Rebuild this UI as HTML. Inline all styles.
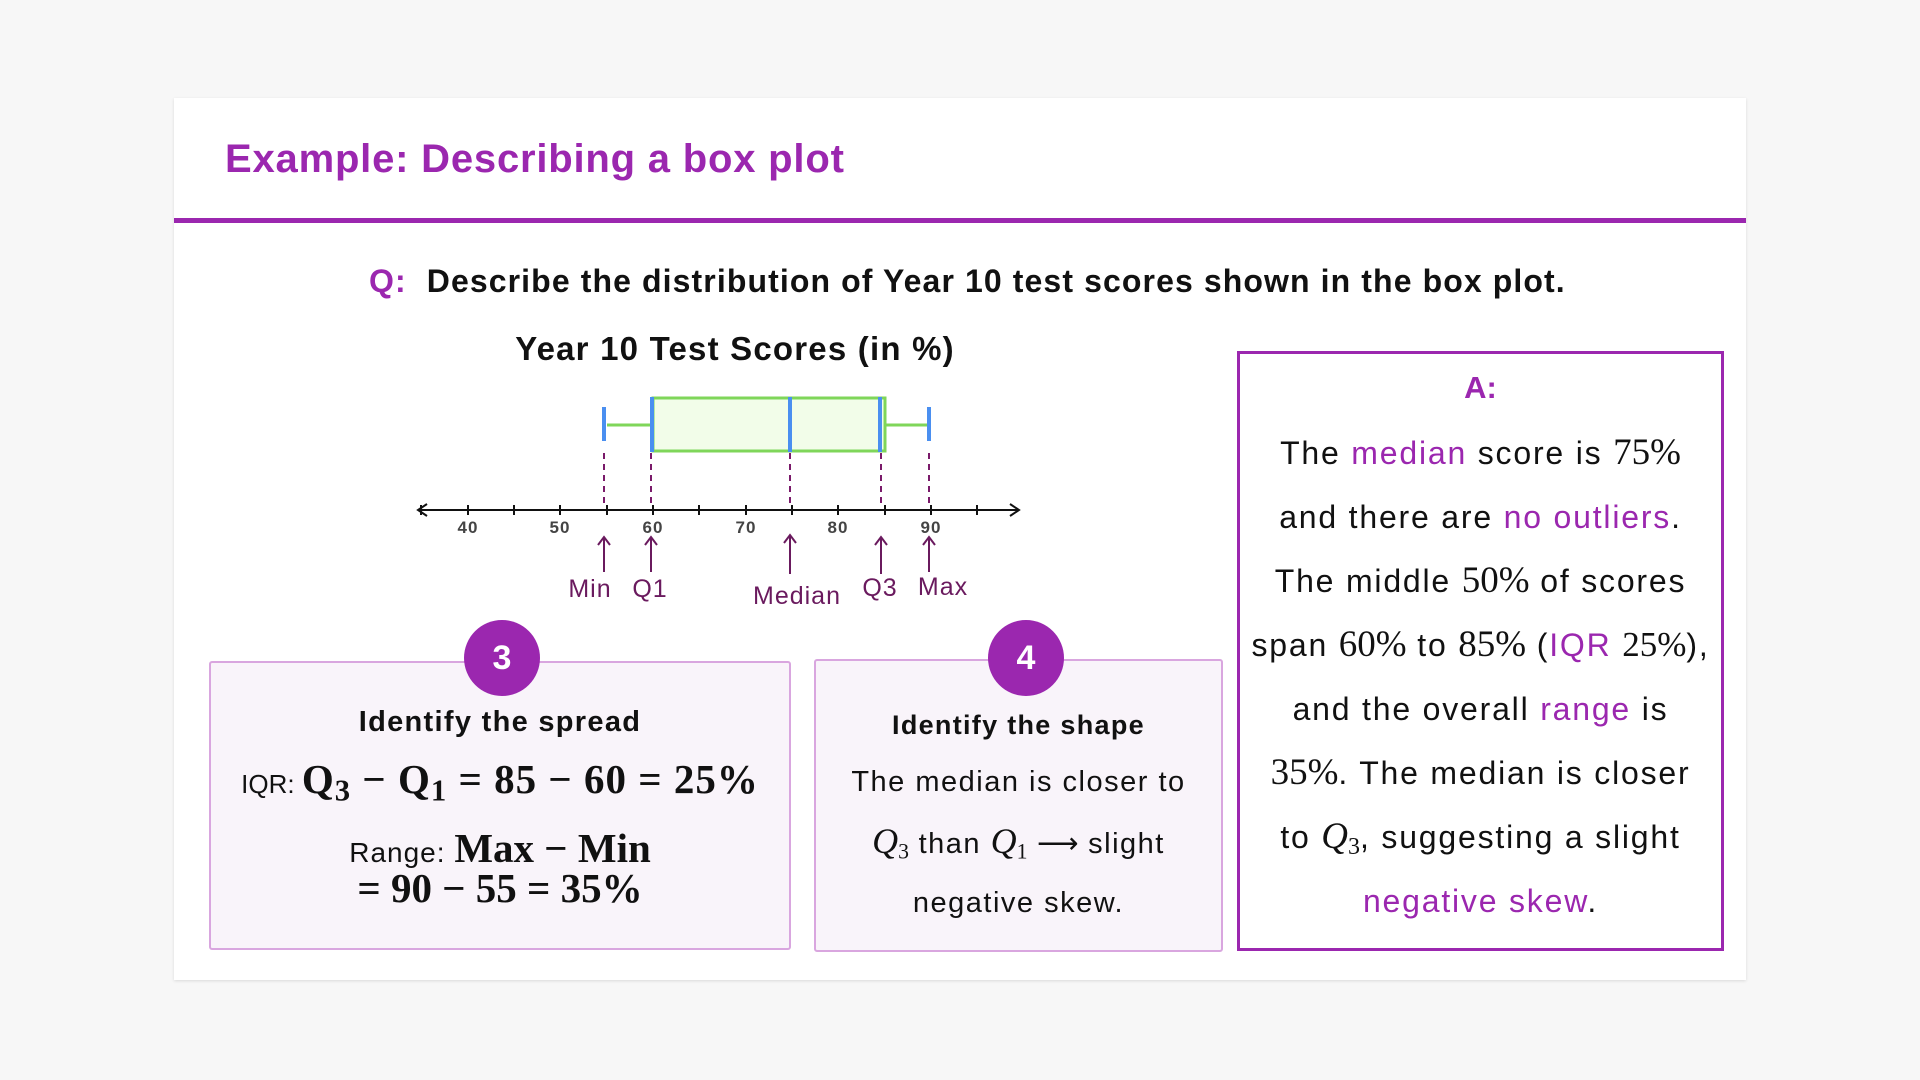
<!DOCTYPE html>
<html><head><meta charset="utf-8"><style>
body{margin:0;width:1920px;height:1080px;background:#f7f7f7;position:relative;overflow:hidden;font-family:"Liberation Sans",sans-serif;}
.card{position:absolute;left:174px;top:98px;width:1572px;height:882px;background:#fff;box-shadow:0 1px 3px rgba(0,0,0,.12);}
.abs{position:absolute;white-space:nowrap}
.p{color:#9b27af}
.m{font-family:"Liberation Serif",serif;letter-spacing:0}
.mi{font-family:"Liberation Serif",serif;font-style:italic;letter-spacing:0}
.c{text-align:center}
sub{line-height:0;vertical-align:-0.25em;font-size:0.75em}
</style></head><body>
<div class="card"></div>
<div class="abs" style="left:225px;top:137px;font-size:40px;letter-spacing:0.8px;font-weight:bold;color:#9b27af">Example: Describing a box plot</div>
<div class="abs" style="left:174px;top:218px;width:1572px;height:5px;background:#9b27af"></div>
<div class="abs" style="left:369px;top:263px;font-size:32px;letter-spacing:1.1px;font-weight:bold;color:#111"><span class="p">Q:</span>&nbsp; Describe the distribution of Year 10 test scores shown in the box plot.</div>
<div class="abs c" style="left:435px;width:600px;top:330px;font-size:33px;letter-spacing:1.2px;font-weight:bold;color:#111">Year 10 Test Scores (in %)</div>
<svg class="abs" style="left:0;top:0" width="1920" height="1080">
<rect x="653" y="398" width="232" height="53" fill="#f2fde9" stroke="#7fd65a" stroke-width="3"/>
<line x1="607" y1="425" x2="653" y2="425" stroke="#7fd65a" stroke-width="3"/>
<line x1="885" y1="425" x2="931" y2="425" stroke="#7fd65a" stroke-width="3"/>
<g stroke="#4a8ff0" stroke-width="4">
<line x1="604" y1="407" x2="604" y2="441"/><line x1="652" y1="397" x2="652" y2="452"/>
<line x1="790" y1="397" x2="790" y2="452"/><line x1="880" y1="397" x2="880" y2="452"/>
<line x1="929" y1="407" x2="929" y2="441"/></g>
<g stroke="#7a1a6a" stroke-width="2" stroke-dasharray="6,5">
<line x1="604" y1="453" x2="604" y2="507"/><line x1="651" y1="453" x2="651" y2="507"/>
<line x1="790" y1="453" x2="790" y2="507"/><line x1="881" y1="453" x2="881" y2="507"/>
<line x1="929" y1="453" x2="929" y2="507"/></g>
<line x1="418" y1="510" x2="1019" y2="510" stroke="#111" stroke-width="2"/>
<path d="M427 504 L418 510 L427 516 M1010 504 L1019 510 L1010 516" fill="none" stroke="#111" stroke-width="2"/>
<g stroke="#111" stroke-width="2">
<line x1="421" y1="505" x2="421" y2="515"/><line x1="468" y1="505" x2="468" y2="515"/><line x1="514" y1="505" x2="514" y2="515"/><line x1="560" y1="505" x2="560" y2="515"/><line x1="607" y1="505" x2="607" y2="515"/><line x1="653" y1="505" x2="653" y2="515"/><line x1="699" y1="505" x2="699" y2="515"/><line x1="746" y1="505" x2="746" y2="515"/><line x1="792" y1="505" x2="792" y2="515"/><line x1="838" y1="505" x2="838" y2="515"/><line x1="885" y1="505" x2="885" y2="515"/><line x1="931" y1="505" x2="931" y2="515"/><line x1="977" y1="505" x2="977" y2="515"/></g>
<g font-family="Liberation Sans" font-size="17" font-weight="bold" fill="#444" text-anchor="middle" letter-spacing="1">
<text x="468" y="533">40</text><text x="560" y="533">50</text><text x="653" y="533">60</text><text x="746" y="533">70</text><text x="838" y="533">80</text><text x="931" y="533">90</text></g>
<g stroke="#6a1a5e" stroke-width="2" fill="none">
<path d="M604 572 V537 M598 545 L604 537 L610 545"/><path d="M651 572 V537 M645 545 L651 537 L657 545"/>
<path d="M790 574 V535 M784 543 L790 535 L796 543"/><path d="M881 574 V537 M875 545 L881 537 L887 545"/>
<path d="M929 572 V537 M923 545 L929 537 L935 545"/></g>
<g font-family="Liberation Sans" font-size="25" fill="#6a1a5e" text-anchor="middle" letter-spacing="1">
<text x="590" y="597">Min</text><text x="650" y="597">Q1</text><text x="797" y="604">Median</text><text x="880" y="596">Q3</text><text x="943" y="595">Max</text></g>
</svg>
<div class="abs" style="left:209px;top:661px;width:578px;height:285px;background:#f9f4fa;border:2px solid #d9a6df;border-radius:3px"></div>
<div class="abs" style="left:814px;top:659px;width:405px;height:289px;background:#f9f4fa;border:2px solid #d9a6df;border-radius:3px"></div>
<div class="abs c" style="left:464px;top:620px;width:76px;height:76px;border-radius:50%;background:#9b27af;color:#fff;font-size:34px;font-weight:bold;line-height:76px">3</div>
<div class="abs c" style="left:988px;top:620px;width:76px;height:76px;border-radius:50%;background:#9b27af;color:#fff;font-size:34px;font-weight:bold;line-height:76px">4</div>
<div class="abs c" style="left:209px;width:582px;top:706px;font-size:29px;letter-spacing:1.3px;font-weight:bold;color:#111">Identify the spread</div>
<div class="abs c" style="left:209px;width:582px;top:755px;font-size:26px;color:#111">IQR: <span class="m" style="font-size:41px;font-weight:bold;letter-spacing:1px">Q<sub>3</sub> − Q<sub>1</sub> = 85 − 60 = 25%</span></div>
<div class="abs c" style="left:209px;width:582px;top:824px;font-size:28px;letter-spacing:1px;color:#111">Range: <span class="m" style="font-size:41px;font-weight:bold">Max − Min</span></div>
<div class="abs c m" style="left:209px;width:582px;top:864px;font-size:41px;font-weight:bold;color:#111">= 90 − 55 = 35%</div>
<div class="abs c" style="left:814px;width:409px;top:710px;font-size:27px;letter-spacing:1.3px;font-weight:bold;color:#111">Identify the shape</div>
<div class="abs c" style="left:814px;width:409px;top:753px;font-size:29px;letter-spacing:1.5px;line-height:59px;color:#111">The median is closer to<br><span class="mi" style="font-size:36px">Q</span><sub class="m">3</sub> than <span class="mi" style="font-size:36px">Q</span><sub class="m">1</sub> <span class="m">⟶</span> slight<br>negative skew.</div>
<div class="abs" style="left:1237px;top:351px;width:481px;height:594px;border:3px solid #9b27af"></div>
<div class="abs c" style="left:1237px;width:487px;top:370px;font-size:31px;font-weight:bold;color:#9b27af">A:</div>
<div class="abs c" style="left:1237px;width:487px;top:421px;font-size:32px;letter-spacing:1.8px;line-height:64px;color:#111">The <span class="p">median</span> score is <span class="m" style="font-size:37px">75%</span><br>and there are <span class="p">no outliers</span>.<br>The middle <span class="m" style="font-size:37px">50%</span> of scores<br>span <span class="m" style="font-size:37px">60%</span> to <span class="m" style="font-size:37px">85%</span> (<span class="p">IQR</span> <span class="m" style="font-size:35px">25%</span>),<br>and the overall <span class="p">range</span> is<br><span class="m" style="font-size:37px">35%</span>. The median is closer<br>to <span class="mi" style="font-size:37px">Q</span><sub class="m">3</sub>, suggesting a slight<br><span class="p">negative skew</span>.</div>
</body></html>
